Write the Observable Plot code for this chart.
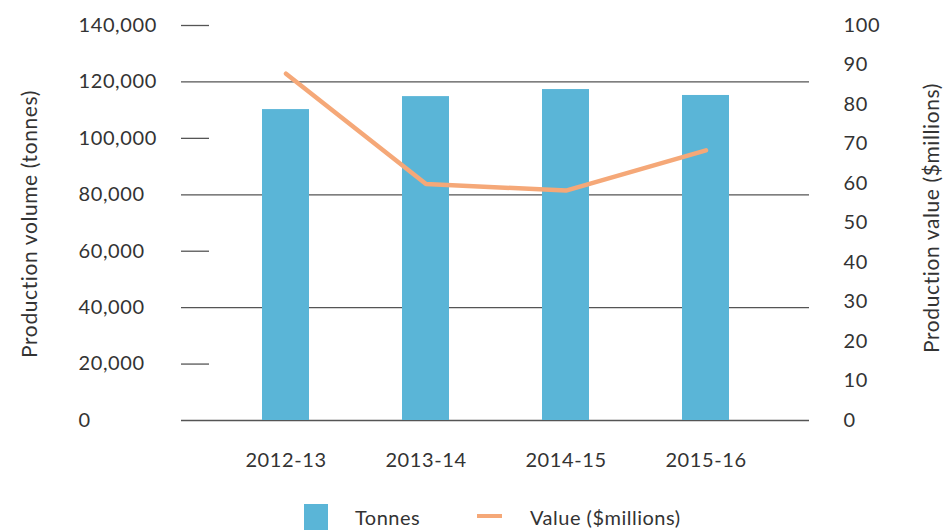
<!DOCTYPE html>
<html>
<head>
<meta charset="utf-8">
<script src="https://cdn.jsdelivr.net/npm/d3@7"></script>
<script src="https://cdn.jsdelivr.net/npm/@observablehq/plot@0.6"></script>
<style>
  html, body { margin: 0; padding: 0; background: #fff; }
  body { width: 944px; height: 530px; overflow: hidden; position: relative; font-family: Lato, "Open Sans", sans-serif; color: #333; }
  #legend { position: relative; height: 40px; }
  #legend .sw { position: absolute; }
  #legend .lbl { position: absolute; font-size: 20px; letter-spacing: 0.5px; line-height: 20px; }
</style>
</head>
<body>
<div id="chart"></div>
<div id="legend">
  <div class="sw" style="left:304px;top:14px;width:24px;height:26px;background:#5AB5D7"></div>
  <div class="lbl" style="left:355px;top:17px">Tonnes</div>
  <div class="sw" style="left:477px;top:24px;width:25px;height:4px;background:#F5A878"></div>
  <div class="lbl" style="left:530px;top:17px">Value ($millions)</div>
</div>
<script>
const years = ["2012-13", "2013-14", "2014-15", "2015-16"];
const tonnes = [110200, 114800, 117300, 115200];
const valueMillions = [87.8, 59.9, 58.2, 68.4];
const leftTicks = [0, 20000, 40000, 60000, 80000, 100000, 120000, 140000];
const rightTicks = [0, 10, 20, 30, 40, 50, 60, 70, 80, 90, 100];
const fullGrid = [0, 40000, 80000, 120000];
const shortGrid = [20000, 60000, 100000, 140000];
const leftTitle = "Production volume (tonnes)";
const rightTitle = "Production value ($millions)";

const rightToLeft = 140000 / 100;
const data = years.map((y, i) => ({year: y, tonnes: tonnes[i], value: valueMillions[i]}));

const fontStyle = {fontSize: 20, fill: "#333"};
const titleStyle = {fontSize: 21, fill: "#333"};

const chart = Plot.plot({
  width: 944,
  height: 490,
  marginTop: 25,
  marginBottom: 70,
  marginLeft: 181,
  marginRight: 135,
  style: {fontFamily: "Lato, 'Open Sans', sans-serif", background: "#fff", letterSpacing: "0.6px"},
  x: {domain: years, paddingInner: 0.665, paddingOuter: 0.56, axis: null},
  y: {domain: [0, 140000], axis: null},
  marks: [
    Plot.ruleY(fullGrid, {y: d => d, stroke: "#555", strokeWidth: 1.3}),
    Plot.ruleY(shortGrid, {y: d => d, stroke: "#555", strokeWidth: 1.3, insetRight: 600}),
    Plot.barY(data, {x: "year", y: "tonnes", fill: "#5AB5D7"}),
    Plot.line(data, {x: "year", y: d => d.value * rightToLeft, stroke: "#F5A878", strokeWidth: 4.5}),
    Plot.text(leftTicks, {y: d => d, text: d => d3.format(",")(d), frameAnchor: "left", textAnchor: "start", dx: -103, ...fontStyle}),
    Plot.text(rightTicks, {y: d => d * rightToLeft, text: d => String(d), frameAnchor: "right", textAnchor: "start", dx: 34, ...fontStyle}),
    Plot.text(years, {x: d => d, text: d => d, frameAnchor: "bottom", lineAnchor: "middle", dy: 40, ...fontStyle}),
    Plot.text([leftTitle], {text: d => d, frameAnchor: "left", textAnchor: "middle", rotate: -90, dx: -151, dy: 1, ...titleStyle}),
    Plot.text([rightTitle], {text: d => d, frameAnchor: "right", textAnchor: "middle", rotate: -90, dx: 123, dy: -5, ...titleStyle})
  ]
});
document.getElementById("chart").appendChild(chart);
</script>
</body>
</html>
